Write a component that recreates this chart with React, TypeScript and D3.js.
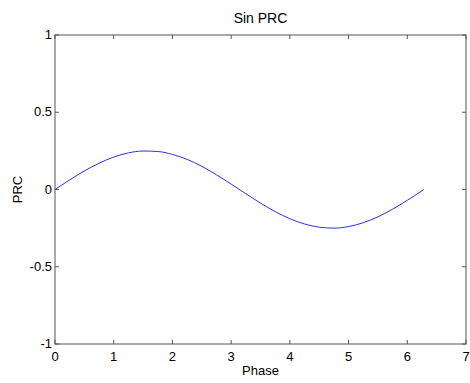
import React, { useEffect, useRef } from 'react';
import * as d3 from 'd3';

// phase samples and PRC values
const phase = [0, 0.25, 0.5, 0.75, 1.0, 1.25, 1.5, 1.75, 2.0, 2.25, 2.5, 2.75, 3.0, 3.25, 3.5, 3.75, 4.0, 4.25, 4.5, 4.75, 5.0, 5.25, 5.5, 5.75, 6.0, 6.25, 6.28];
const prc = [0, 0.062, 0.12, 0.17, 0.21, 0.237, 0.249, 0.246, 0.227, 0.195, 0.15, 0.095, 0.035, -0.027, -0.088, -0.143, -0.189, -0.223, -0.244, -0.25, -0.24, -0.215, -0.177, -0.127, -0.07, -0.008, 0];
const xTicks = [0, 1, 2, 3, 4, 5, 6, 7];
const yTicks = [-1, -0.5, 0, 0.5, 1];

const App = () => {
  const ref = useRef<SVGSVGElement>(null);

  useEffect(() => {
    const svg = d3.select(ref.current);
    svg.selectAll('*').remove();

    const W = 470, H = 383;
    const left = 55, right = 466, top = 35, bottom = 344;
    const font = 'Liberation Sans, Arial, sans-serif';
    const axisColor = '#555';

    svg.append('rect').attr('width', W).attr('height', H).attr('fill', '#fff');

    const x = d3.scaleLinear().domain([0, 7]).range([left, right]);
    const y = d3.scaleLinear().domain([-1, 1]).range([bottom, top]);

    // box
    svg.append('rect')
      .attr('x', left).attr('y', top)
      .attr('width', right - left).attr('height', bottom - top)
      .attr('fill', 'none').attr('stroke', axisColor).attr('stroke-width', 1);

    // ticks (inward, on all four sides)
    xTicks.forEach(t => {
      svg.append('line').attr('x1', x(t)).attr('x2', x(t)).attr('y1', bottom).attr('y2', bottom - 4).attr('stroke', axisColor);
      svg.append('line').attr('x1', x(t)).attr('x2', x(t)).attr('y1', top).attr('y2', top + 4).attr('stroke', axisColor);
      svg.append('text')
        .attr('x', x(t)).attr('y', bottom + 17)
        .attr('text-anchor', 'middle')
        .style('font-family', font).style('font-size', '13px')
        .text(t);
    });
    yTicks.forEach(t => {
      svg.append('line').attr('x1', left).attr('x2', left + 4).attr('y1', y(t)).attr('y2', y(t)).attr('stroke', axisColor);
      svg.append('line').attr('x1', right).attr('x2', right - 4).attr('y1', y(t)).attr('y2', y(t)).attr('stroke', axisColor);
      svg.append('text')
        .attr('x', left - 3).attr('y', y(t) + 4)
        .attr('text-anchor', 'end')
        .style('font-family', font).style('font-size', '13px')
        .text(t);
    });

    // curve
    const line = d3.line<number>()
      .x((d, i) => x(phase[i]))
      .y(d => y(d))
      .curve(d3.curveMonotoneX);
    svg.append('path')
      .datum(prc)
      .attr('d', line)
      .attr('fill', 'none')
      .attr('stroke', '#3030e0')
      .attr('stroke-width', 1);

    // labels
    svg.append('text')
      .attr('x', (left + right) / 2).attr('y', 375)
      .attr('text-anchor', 'middle')
      .style('font-family', font).style('font-size', '13px')
      .text('Phase');
    svg.append('text')
      .attr('transform', `translate(22, ${y(0)}) rotate(-90)`)
      .attr('text-anchor', 'middle')
      .style('font-family', font).style('font-size', '13px')
      .text('PRC');
    svg.append('text')
      .attr('x', (left + right) / 2).attr('y', 23)
      .attr('text-anchor', 'middle')
      .style('font-family', font).style('font-size', '14px')
      .text('Sin PRC');
  }, []);

  return (
    <svg ref={ref} width={470} height={383} style={{ position: 'absolute', left: 0, top: 0, display: 'block' }} />
  );
};

export default App;
